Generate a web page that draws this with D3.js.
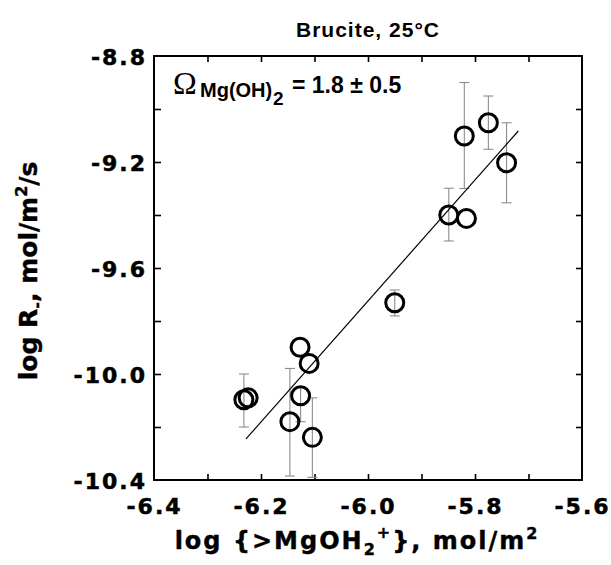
<!DOCTYPE html>
<html><head><meta charset="utf-8">
<script src="https://cdn.jsdelivr.net/npm/d3@7"></script>
<style>body{margin:0;background:#fff}</style>
</head><body>
<svg id="c" width="611" height="565"></svg>
<script>
// ---- data ----
const pointX = [-6.232, -6.224, -6.127, -6.110, -6.126, -6.146, -6.104, -5.950, -5.849, -5.816, -5.820, -5.775, -5.741];
const pointY = [-10.097, -10.090, -9.899, -9.960, -10.082, -10.180, -10.239, -9.731, -9.400, -9.413, -9.102, -9.052, -9.203];
const errLo  = [-10.20, null, null, null, -10.18, -10.385, -10.39, -9.781, -9.498, null, -9.30, -9.152, -9.354];
const errHi  = [-10.00, null, null, null, -10.05, -9.979, -10.09, -9.683, -9.299, null, -8.90, -8.951, -9.052];
const fitX = [-6.228, -5.719];
const fitY = [-10.245, -9.083];
const xDomain = [-6.4, -5.6];
const yDomain = [-10.4, -8.8];
const xTickLabels = [-6.4, -6.2, -6.0, -5.8, -5.6];
const xMinorTicks = [-6.3, -6.2, -6.1, -6.0, -5.9, -5.8, -5.7];
const yTickLabels = [-8.8, -9.2, -9.6, -10.0, -10.4];
const yMinorTicks = [-9.0, -9.2, -9.4, -9.6, -9.8, -10.0, -10.2];
const titleText = "Brucite, 25°C";

// ---- layout ----
const L = 154, R = 582, T = 56, B = 480;
const svg = d3.select("#c");
const x = d3.scaleLinear().domain(xDomain).range([L, R]);
const y = d3.scaleLinear().domain(yDomain).range([B, T]);
const fmt = d => d.toFixed(1);
const tickFont = "'DejaVu Sans', Verdana, sans-serif";

// minor ticks (inward) on all four sides
svg.append("g").attr("transform", `translate(0,${B})`)
  .call(d3.axisBottom(x).tickValues(xMinorTicks).tickSize(-6).tickFormat(""));
svg.append("g").attr("transform", `translate(0,${T})`)
  .call(d3.axisTop(x).tickValues(xMinorTicks).tickSize(-6).tickFormat(""));
svg.append("g").attr("transform", `translate(${L},0)`)
  .call(d3.axisLeft(y).tickValues(yMinorTicks).tickSize(-7).tickFormat(""));
svg.append("g").attr("transform", `translate(${R},0)`)
  .call(d3.axisRight(y).tickValues(yMinorTicks).tickSize(-6).tickFormat(""));
svg.selectAll("g .tick line").attr("stroke", "#000").attr("stroke-width", 1.6);
svg.selectAll("g path.domain").remove();

// labelled axes
const gxl = svg.append("g").attr("transform", `translate(0,${B})`)
  .call(d3.axisBottom(x).tickValues(xTickLabels).tickSize(0).tickPadding(18).tickFormat(fmt));
const gyl = svg.append("g").attr("transform", `translate(${L},0)`)
  .call(d3.axisLeft(y).tickValues(yTickLabels).tickSize(0).tickPadding(9).tickFormat(fmt));
[gxl, gyl].forEach(g => {
  g.select("path.domain").remove();
  g.selectAll("text").attr("font-family", tickFont).attr("font-weight", "bold")
    .attr("font-size", 22).attr("fill", "#000").attr("stroke", "#000").attr("stroke-width", 0.5)
    .style("letter-spacing", "2px");
});
gyl.selectAll("text").attr("dy", "0.4em").attr("dx", "2px");

// frame
svg.append("rect").attr("x", L).attr("y", T).attr("width", R - L).attr("height", B - T)
  .attr("fill", "none").attr("stroke", "#000").attr("stroke-width", 2);

// error bars
const eb = pointX.map((d, i) => ({x: d, lo: errLo[i], hi: errHi[i]})).filter(d => d.lo !== null);
const ge = svg.append("g").attr("stroke", "#8c8c8c").attr("stroke-width", 1.1);
ge.selectAll("line.v").data(eb).join("line")
  .attr("x1", d => x(d.x)).attr("x2", d => x(d.x))
  .attr("y1", d => y(d.lo)).attr("y2", d => y(d.hi));
ge.selectAll("line.lo").data(eb).join("line")
  .attr("x1", d => x(d.x) - 5).attr("x2", d => x(d.x) + 5)
  .attr("y1", d => y(d.lo)).attr("y2", d => y(d.lo));
ge.selectAll("line.hi").data(eb).join("line")
  .attr("x1", d => x(d.x) - 5).attr("x2", d => x(d.x) + 5)
  .attr("y1", d => y(d.hi)).attr("y2", d => y(d.hi));

// fit line
svg.append("line")
  .attr("x1", x(fitX[0])).attr("y1", y(fitY[0]))
  .attr("x2", x(fitX[1])).attr("y2", y(fitY[1]))
  .attr("stroke", "#000").attr("stroke-width", 1.2);

// points
svg.append("g").selectAll("circle").data(pointX.map((d, i) => [d, pointY[i]])).join("circle")
  .attr("cx", d => x(d[0])).attr("cy", d => y(d[1])).attr("r", 9)
  .attr("fill", "none").attr("stroke", "#000").attr("stroke-width", 3);

// title
svg.append("text").attr("x", 368).attr("y", 37).attr("text-anchor", "middle")
  .attr("font-family", "'Liberation Sans', Arial, sans-serif").attr("font-weight", "bold")
  .attr("font-size", 21).style("letter-spacing", "1px").text(titleText);

// annotation
const ann = svg.append("g").attr("font-family", "'Liberation Sans', Arial, sans-serif").attr("font-weight", "bold");
ann.append("text").attr("x", 173).attr("y", 94).attr("font-family", "'Liberation Serif', serif")
  .attr("font-weight", "normal").attr("font-size", 32).text("Ω");
ann.append("text").attr("x", 200).attr("y", 97).attr("font-size", 20).text("Mg(OH)");
ann.append("text").attr("x", 273).attr("y", 105).attr("font-size", 19).text("2");
ann.append("text").attr("x", 292).attr("y", 93).attr("font-size", 23).text("= 1.8 ± 0.5");

// x axis title
const xt = svg.append("text").attr("x", 357).attr("y", 549).attr("text-anchor", "middle")
  .attr("font-family", tickFont).attr("font-weight", "bold").attr("font-size", 24)
  .attr("stroke", "#000").attr("stroke-width", 0.4)
  .style("letter-spacing", "2px");
xt.append("tspan").text("log {>MgOH");
xt.append("tspan").attr("font-size", 16).attr("dy", 6).text("2");
xt.append("tspan").attr("font-size", 16).attr("dy", -17).text("+");
xt.append("tspan").attr("dy", 11).text("}, mol/m");
xt.append("tspan").attr("font-size", 16).attr("dy", -10).text("2");

// y axis title
const yt = svg.append("text").attr("transform", "translate(37,271) rotate(-90)")
  .attr("text-anchor", "middle").attr("font-family", tickFont).attr("font-weight", "bold")
  .attr("stroke", "#000").attr("stroke-width", 0.4)
  .attr("font-size", 25);
yt.append("tspan").text("log R");
yt.append("tspan").attr("font-size", 16).attr("dy", 5).text("-");
yt.append("tspan").attr("dy", -5).text(", mol/m");
yt.append("tspan").attr("font-size", 16).attr("dy", -10).text("2");
yt.append("tspan").attr("dy", 10).text("/s");
</script>
</body></html>
